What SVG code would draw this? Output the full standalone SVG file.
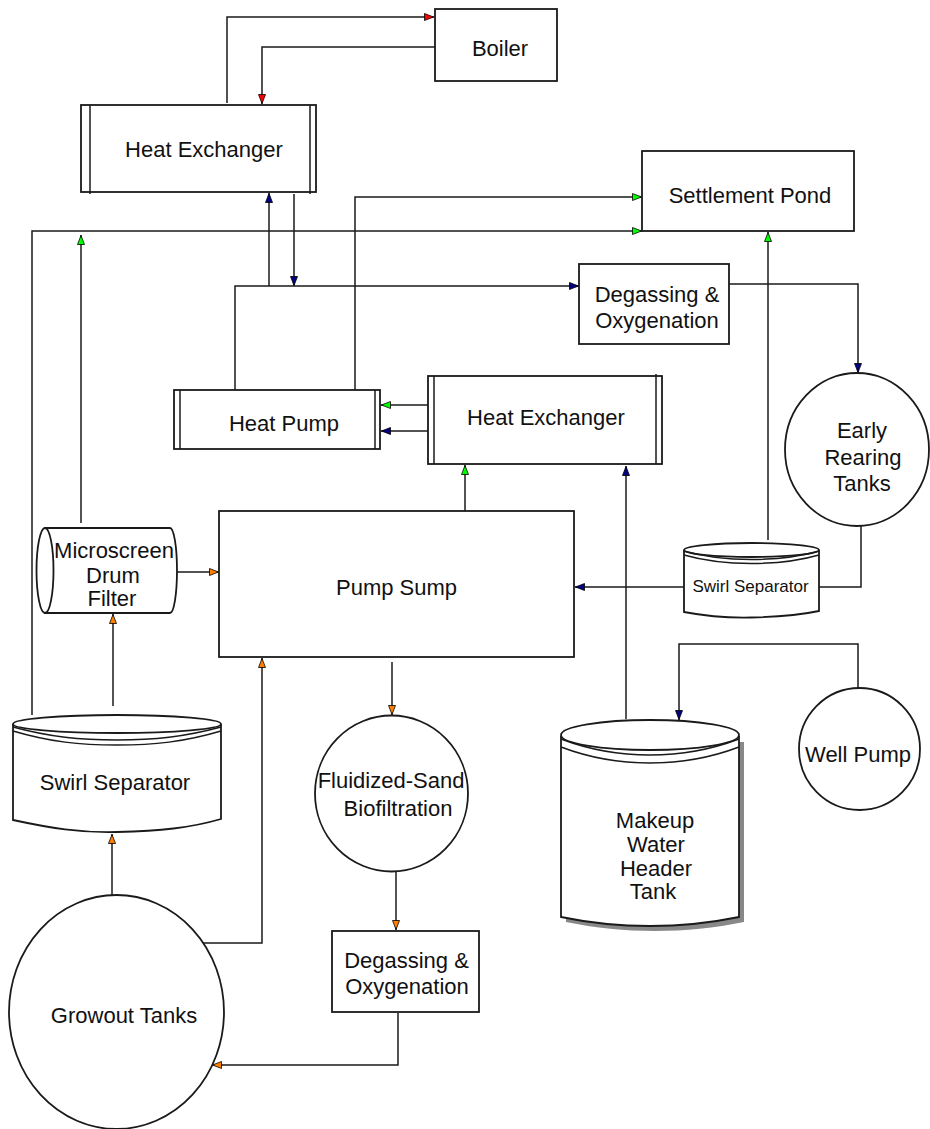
<svg xmlns="http://www.w3.org/2000/svg" width="930" height="1129" viewBox="0 0 930 1129">
<style>
.bx{fill:#fff;stroke:#1a1a1a;stroke-width:1.8}
.ln{fill:none;stroke:#1a1a1a;stroke-width:1.5}
.t{font-family:"Liberation Sans",Arial,sans-serif;font-size:22px;fill:#111;text-anchor:middle}
.ts{font-family:"Liberation Sans",Arial,sans-serif;font-size:17px;fill:#111;text-anchor:middle}
</style>
<defs>
<marker id="aR" viewBox="0 0 10 8" refX="10" refY="4" markerWidth="10" markerHeight="8" markerUnits="userSpaceOnUse" orient="auto"><path d="M0.5,0.5 L9.5,4 L0.5,7.5 Z" fill="#ff0000" stroke="#000" stroke-width="0.8"/></marker>
<marker id="aG" viewBox="0 0 10 8" refX="10" refY="4" markerWidth="10" markerHeight="8" markerUnits="userSpaceOnUse" orient="auto"><path d="M0.5,0.5 L9.5,4 L0.5,7.5 Z" fill="#00ff00" stroke="#000" stroke-width="0.8"/></marker>
<marker id="aB" viewBox="0 0 10 8" refX="10" refY="4" markerWidth="10" markerHeight="8" markerUnits="userSpaceOnUse" orient="auto"><path d="M0.5,0.5 L9.5,4 L0.5,7.5 Z" fill="#000080" stroke="#000" stroke-width="0.8"/></marker>
<marker id="aO" viewBox="0 0 10 8" refX="10" refY="4" markerWidth="10" markerHeight="8" markerUnits="userSpaceOnUse" orient="auto"><path d="M0.5,0.5 L9.5,4 L0.5,7.5 Z" fill="#ff8000" stroke="#000" stroke-width="0.8"/></marker>
</defs>
<rect width="930" height="1129" fill="#fff"/>

<g id="connectors">
<path class="ln" d="M227,103 V17 H434" marker-end="url(#aR)"/>
<path class="ln" d="M435,47 H262 V104" marker-end="url(#aR)"/>
<path class="ln" d="M269,286 V193" marker-end="url(#aB)"/>
<path class="ln" d="M294,194 V286" marker-end="url(#aB)"/>
<path class="ln" d="M235,390 V286 H579" marker-end="url(#aB)"/>
<path class="ln" d="M355,390 V197 H642" marker-end="url(#aG)"/>
<path class="ln" d="M32,715 V231 H642" marker-end="url(#aG)"/>
<path class="ln" d="M81,523 V235" marker-end="url(#aG)"/>
<path class="ln" d="M729,284 H858 V373" marker-end="url(#aB)"/>
<path class="ln" d="M428,405 H381" marker-end="url(#aG)"/>
<path class="ln" d="M428,431 H381" marker-end="url(#aB)"/>
<path class="ln" d="M465,511 V465" marker-end="url(#aG)"/>
<path class="ln" d="M626,719 V466" marker-end="url(#aB)"/>
<path class="ln" d="M684,587 H575" marker-end="url(#aB)"/>
<path class="ln" d="M861,526 V587 H819"/>
<path class="ln" d="M768,540 V232" marker-end="url(#aG)"/>
<path class="ln" d="M177,572 H219" marker-end="url(#aO)"/>
<path class="ln" d="M113,706 V614" marker-end="url(#aO)"/>
<path class="ln" d="M392,662 V715" marker-end="url(#aO)"/>
<path class="ln" d="M396,872 V930" marker-end="url(#aO)"/>
<path class="ln" d="M398,1013 V1065 H212" marker-end="url(#aO)"/>
<path class="ln" d="M203,943 H262 V658" marker-end="url(#aO)"/>
<path class="ln" d="M112,895 V834" marker-end="url(#aO)"/>
<path class="ln" d="M858,688 V644 H679 V720" marker-end="url(#aB)"/>
</g>

<g id="boiler">
<rect class="bx" x="435" y="9" width="122" height="72"/>
<text class="t" x="500" y="56">Boiler</text>
</g>

<g id="heat-exchanger-top">
<rect class="bx" x="81" y="105" width="235" height="87"/>
<line class="ln" x1="90" y1="105" x2="90" y2="194"/>
<line class="ln" x1="310" y1="105" x2="310" y2="194"/>
<text class="t" x="204" y="157">Heat Exchanger</text>
</g>

<g id="settlement-pond">
<rect class="bx" x="642" y="151" width="212" height="80"/>
<text class="t" x="750" y="203">Settlement Pond</text>
</g>

<g id="degassing-top">
<rect class="bx" x="579" y="264" width="150" height="80"/>
<text class="t" x="657" y="302">Degassing &amp;</text>
<text class="t" x="657" y="328">Oxygenation</text>
</g>

<g id="heat-pump">
<rect class="bx" x="174" y="390" width="206" height="59"/>
<line class="ln" x1="180" y1="390" x2="180" y2="449"/>
<line class="ln" x1="375" y1="390" x2="375" y2="449"/>
<text class="t" x="284" y="431">Heat Pump</text>
</g>

<g id="heat-exchanger-mid">
<rect class="bx" x="428" y="376" width="234" height="88"/>
<line class="ln" x1="434" y1="376" x2="434" y2="464"/>
<line class="ln" x1="656" y1="374" x2="656" y2="464"/>
<text class="t" x="546" y="425">Heat Exchanger</text>
</g>

<g id="early-rearing-tanks">
<ellipse class="bx" cx="857" cy="449.5" rx="72" ry="76.5"/>
<text class="t" x="862" y="438">Early</text>
<text class="t" x="863" y="465">Rearing</text>
<text class="t" x="862" y="491">Tanks</text>
</g>

<g id="microscreen-drum-filter">
<path class="bx" d="M45,528 H170 A7,42.5 0 0 1 170,613 H45 Z"/>
<ellipse class="bx" cx="45" cy="570.5" rx="8.5" ry="42.5"/>
<text class="t" x="114" y="558">Microscreen</text>
<text class="t" x="113" y="583">Drum</text>
<text class="t" x="112" y="606">Filter</text>
</g>

<g id="pump-sump">
<rect class="bx" x="219" y="511" width="355" height="146"/>
<text class="t" x="396.5" y="595">Pump Sump</text>
</g>

<g id="swirl-separator-right">
<path class="bx" d="M684,551 L684,612 C705,616 730,618 751.5,617.5 C775,617 800,615 819,611 L819,551 Z"/>
<ellipse class="bx" cx="751.5" cy="550" rx="67.5" ry="7"/>
<path class="ln" d="M684,551 C705,557 725,559.5 751.5,559.5 C778,559.5 798,557 819,551"/>
<path class="ln" d="M684,555 C705,561 725,563.5 751.5,563.5 C778,563.5 798,561 819,555"/>
<text class="ts" x="750.5" y="592">Swirl Separator</text>
</g>

<g id="swirl-separator-left">
<path class="bx" d="M13,725 L13,820 C50,828 80,833 117,832 C160,831 190,828 221,819 L221,725 Z"/>
<ellipse class="bx" cx="117" cy="724" rx="104" ry="9"/>
<path class="ln" d="M13,727 C50,737 80,740 117,740 C154,740 184,737 221,727"/>
<path class="ln" d="M13,731 C50,742 80,745 117,745 C154,745 184,742 221,731"/>
<text class="t" x="115" y="790">Swirl Separator</text>
</g>

<g id="fluidized-sand-biofiltration">
<ellipse class="bx" cx="391.5" cy="793.5" rx="76.5" ry="78"/>
<text class="t" x="391" y="788">Fluidized-Sand</text>
<text class="t" x="398" y="816">Biofiltration</text>
</g>

<g id="makeup-water-header-tank">
<path d="M566,742 L566,922 C595,928 625,931 655,931 C685,931 715,928 744,922 L744,742 Z" fill="#888" stroke="none"/>
<path class="bx" d="M561,737 L561,917 C590,923 620,926 650,926 C680,926 710,923 739,917 L739,737 Z"/>
<ellipse class="bx" cx="650" cy="735" rx="89" ry="15"/>
<path class="ln" d="M561,739 C590,750 620,755 650,755 C680,755 710,750 739,739"/>
<path class="ln" d="M561,747 C590,758 620,763 650,763 C680,763 710,758 739,747"/>
<text class="t" x="655" y="828">Makeup</text>
<text class="t" x="656" y="852">Water</text>
<text class="t" x="656" y="876">Header</text>
<text class="t" x="653" y="899">Tank</text>
</g>

<g id="well-pump">
<ellipse class="bx" cx="859.5" cy="749" rx="60.5" ry="61"/>
<text class="t" x="858" y="762">Well Pump</text>
</g>

<g id="degassing-bottom">
<rect class="bx" x="332" y="931" width="147" height="81"/>
<text class="t" x="406.5" y="968">Degassing &amp;</text>
<text class="t" x="407" y="994">Oxygenation</text>
</g>

<g id="growout-tanks">
<ellipse class="bx" cx="116.5" cy="1012" rx="107.5" ry="117"/>
<text class="t" x="124" y="1023">Growout Tanks</text>
</g>
</svg>
